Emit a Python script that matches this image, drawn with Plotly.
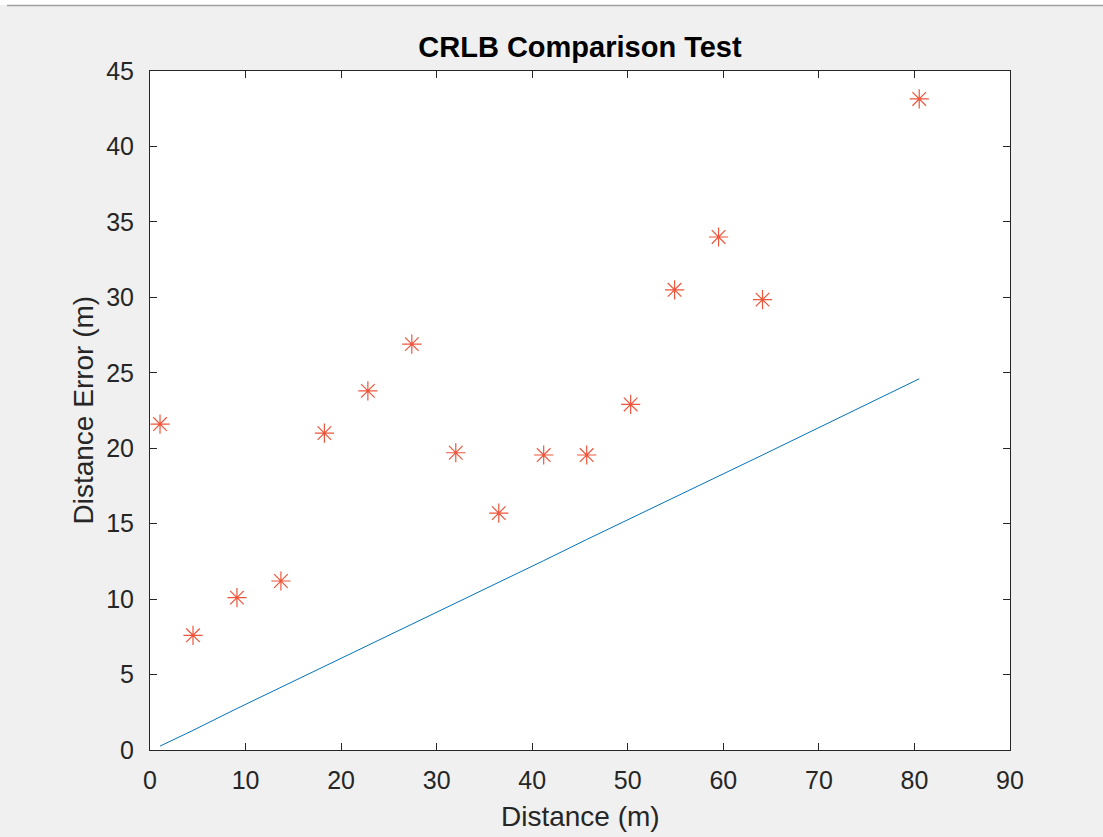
import plotly.graph_objects as go

# Data
distance = [1.05, 4.5, 9.1, 13.7, 18.25, 22.8, 27.4, 32.0, 36.5, 41.2, 45.7, 50.3, 54.9, 59.5, 64.1, 80.5]
measured_error = [21.6, 7.6, 10.1, 11.2, 21.0, 23.8, 26.9, 19.7, 15.7, 19.55, 19.55, 22.9, 30.5, 34.0, 29.85, 43.15]
crlb = [0.26, 1.3, 2.75, 4.15, 5.55, 6.95, 8.35, 9.75, 11.1, 12.55, 13.95, 15.35, 16.75, 18.15, 19.55, 24.6]

x_ticks = [0, 10, 20, 30, 40, 50, 60, 70, 80, 90]
y_ticks = [0, 5, 10, 15, 20, 25, 30, 35, 40, 45]

W, H = 1103, 837
L, R, T, B = 150, 93, 71, 87
PH = H - T - B
PW = W - L - R

FONT = "Arial, Liberation Sans, Helvetica, sans-serif"
AX = "#262626"

fig = go.Figure()
fig.add_trace(go.Scatter(x=distance, y=crlb, mode="lines",
                         line=dict(color="#0072BD", width=1), showlegend=False))
fig.add_trace(go.Scatter(x=distance, y=measured_error, mode="markers",
                         marker=dict(symbol="asterisk-open", size=16,
                                     line=dict(color="#D95319", width=1.2)),
                         showlegend=False))

axis_common = dict(showline=True, linecolor=AX, linewidth=1, mirror="ticks",
                   ticks="inside", ticklen=7, tickcolor=AX, tickwidth=1,
                   showgrid=False, zeroline=False,
                   tickfont=dict(family=FONT, size=25, color=AX))

fig.update_xaxes(range=[0, 90], tickvals=x_ticks, ticklabelstandoff=8, **axis_common)
fig.update_yaxes(range=[0, 45], tickvals=y_ticks, ticklabelstandoff=10, **axis_common)

fig.update_layout(
    width=W, height=H,
    margin=dict(l=L, r=R, t=T, b=B, pad=0),
    paper_bgcolor="#f0f0f0", plot_bgcolor="white",
    title=dict(text="<b>CRLB Comparison Test</b>", x=(L + PW / 2) / W, xanchor="center",
               y=1 - 47 / H, yanchor="middle",
               font=dict(family=FONT, size=29, color="black")),
    annotations=[
        dict(text="Distance (m)", xref="paper", yref="paper", x=0.5, y=0,
             xanchor="center", yanchor="middle", yshift=-66, showarrow=False,
             font=dict(family=FONT, size=28, color=AX)),
        dict(text="Distance Error (m)", xref="paper", yref="paper", x=0, y=0.5,
             xanchor="center", yanchor="middle", xshift=-67, textangle=-90,
             showarrow=False, font=dict(family=FONT, size=28, color=AX)),
    ],
    shapes=[
        dict(type="rect", xref="paper", yref="paper",
             x0=-L / PW, x1=1 + R / PW, y0=1 + (T - 5) / PH, y1=1 + T / PH,
             fillcolor="white", line=dict(width=0), layer="above"),
        dict(type="line", xref="paper", yref="paper",
             x0=(7 - L) / PW, x1=1 + R / PW, y0=1 + (T - 5.5) / PH, y1=1 + (T - 5.5) / PH,
             line=dict(color="#a0a0a0", width=1.5), layer="above"),
    ],
)

fig.write_html("out.html")
